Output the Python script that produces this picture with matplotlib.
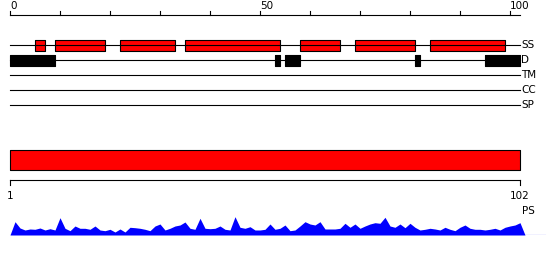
import numpy as np
import matplotlib
matplotlib.use("Agg")
import matplotlib.pyplot as plt

seq_len = 102
ruler_ticks = list(range(0, 101, 10))
ruler_labels = {0: "0", 50: "50", 100: "100"}

# feature spans on the residue ruler (start, end)
ss_spans = [(5, 7), (9, 19), (22, 33), (35, 54), (58, 66), (69, 81), (84, 99)]
d_spans = [(0, 9), (53, 54), (55, 58), (81, 82), (95, 102)]
track_names = ["SS", "D", "TM", "CC", "SP"]

# PS profile, one value per residue (1..102)
ps_values = [13.3, 7.0, 5.0, 6.0, 5.7, 7.0, 5.0, 6.3, 5.0, 17.3,
             6.7, 4.3, 9.0, 6.7, 6.7, 5.7, 9.0, 5.0, 4.3, 5.7,
             3.0, 6.0, 3.0, 7.7, 7.3, 6.7, 5.7, 4.3, 9.0, 11.0,
             5.0, 6.7, 9.0, 10.0, 13.0, 6.7, 5.7, 16.7, 6.7, 6.3,
             6.7, 9.0, 5.7, 5.0, 18.3, 7.7, 6.7, 8.3, 5.0, 5.0,
             5.7, 11.0, 5.7, 6.7, 10.0, 4.3, 5.0, 9.0, 13.3, 11.0,
             10.0, 13.3, 6.0, 6.0, 6.0, 6.7, 11.7, 7.7, 11.0, 6.7,
             9.0, 11.0, 12.3, 11.7, 17.7, 9.0, 7.7, 11.0, 7.3, 11.7,
             7.7, 5.0, 5.7, 6.7, 6.0, 5.0, 7.7, 5.7, 4.3, 7.7,
             10.0, 6.7, 5.7, 5.7, 5.0, 5.7, 6.7, 5.0, 7.7, 9.0,
             10.0, 12.3]

fig = plt.figure(figsize=(5.5, 2.6), dpi=100)
ax = fig.add_axes([0, 0, 1, 1])
ax.set_xlim(-2, 108)
ax.set_ylim(260, 0)
ax.axis("off")

lw = 0.8
font = dict(family="DejaVu Sans", fontsize=7.5, color="black")

# top ruler
ax.plot([0, seq_len], [15, 15], color="black", lw=lw)
for t in ruler_ticks:
    ax.plot([t, t], [11, 15], color="black", lw=lw)
    if t in ruler_labels:
        ax.text(t, 6, ruler_labels[t], ha="left", va="center", **font)

# tracks
track_y = [45, 60, 75, 90, 105]
for name, y in zip(track_names, track_y):
    ax.plot([0, seq_len], [y, y], color="black", lw=lw)
    ax.text(seq_len + 0.2, y, name, ha="left", va="center", **font)

ax.broken_barh([(s, e - s) for s, e in ss_spans], (40, 10.5),
               facecolors="red", edgecolors="black", linewidth=lw)
ax.broken_barh([(s, e - s) for s, e in d_spans], (55, 10.5),
               facecolors="black", edgecolors="black", linewidth=lw)

# full-length bar and bottom ruler
ax.broken_barh([(0, seq_len)], (150, 20), facecolors="red",
               edgecolors="black", linewidth=lw)
ax.plot([0, seq_len], [180, 180], color="black", lw=lw)
for t, lab in [(0, "1"), (seq_len, str(seq_len))]:
    ax.plot([t, t], [180, 185], color="black", lw=lw)
    ax.text(t, 196, lab, ha="center", va="center", **font)
ax.text(seq_len + 0.4, 211, "PS", ha="left", va="center", **font)

# PS area profile
ax2 = fig.add_axes([0, 25 / 260, 1, 20 / 260])
ax2.set_xlim(-2, 108)
ax2.set_ylim(0, 20)
ax2.axis("off")
pos = np.arange(0, seq_len + 2)
vals = np.array([0] + ps_values + [0])
ax2.fill_between(pos, vals, 0, color="blue", lw=0)
ax2.plot([0, 107], [0, 0], color="blue", lw=lw)

fig.savefig("out.png", dpi=100)
